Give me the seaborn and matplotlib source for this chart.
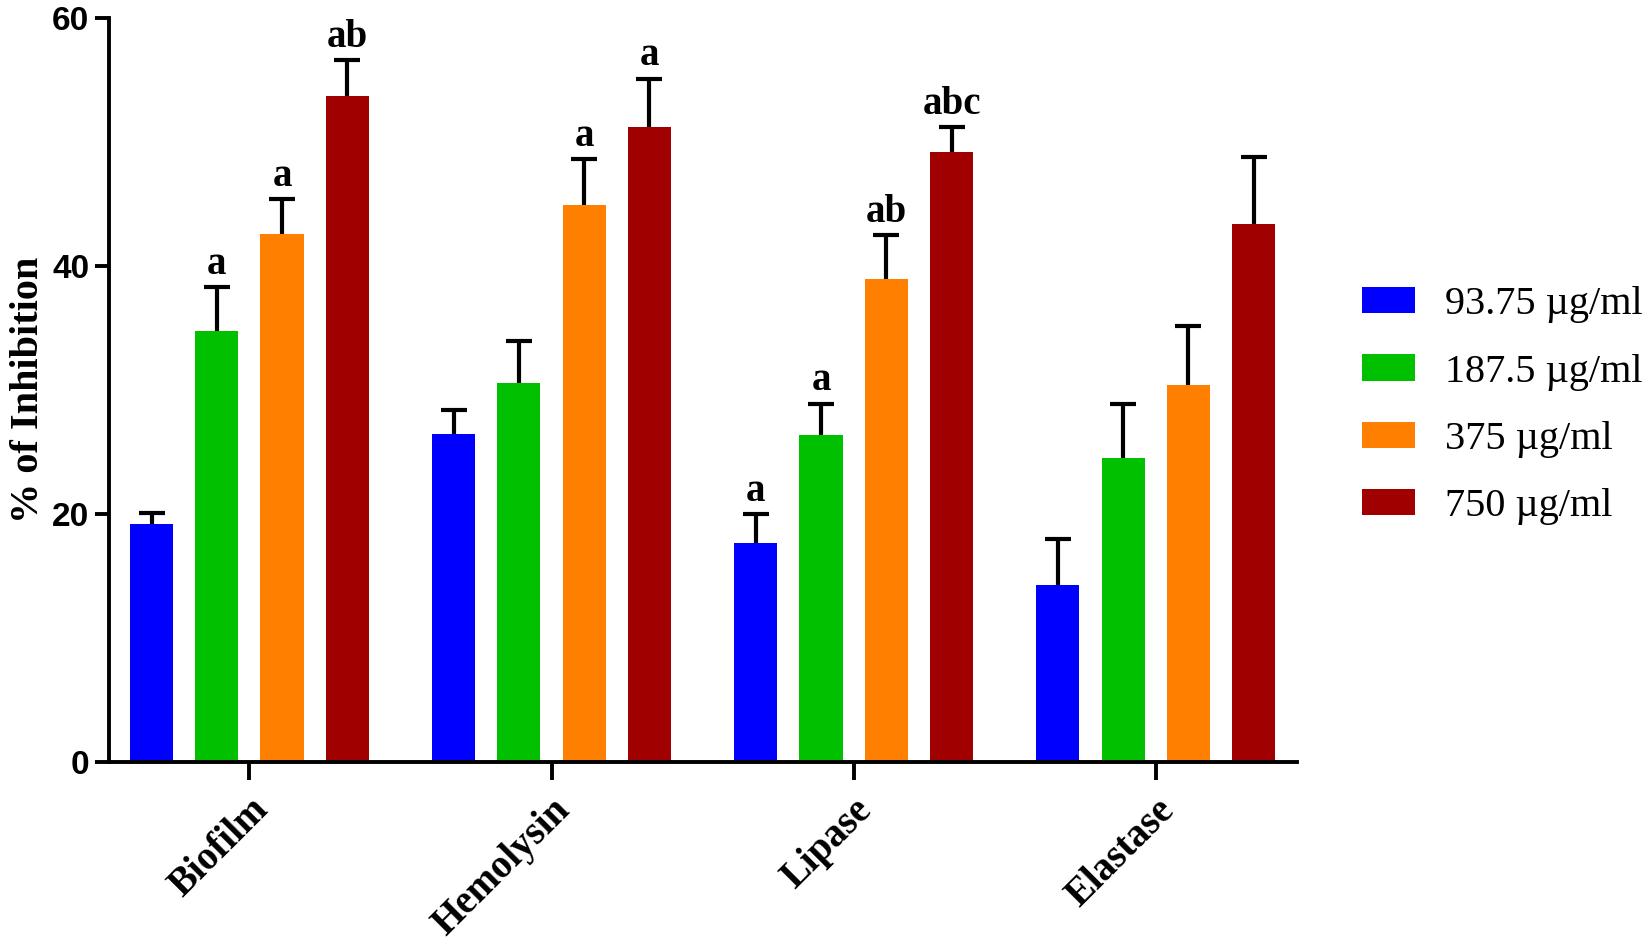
import numpy as np
import pandas as pd
import matplotlib
matplotlib.use('Agg')
import matplotlib.pyplot as plt
import seaborn as sns

# data
assays = ['Biofilm', 'Hemolysin', 'Lipase', 'Elastase']
doses = ['93.75 µg/ml', '187.5 µg/ml', '375 µg/ml', '750 µg/ml']

mean_9375 = [19.2, 26.5, 17.7, 14.3]
mean_1875 = [34.8, 30.6, 26.4, 24.5]
mean_375 = [42.6, 44.9, 39.0, 30.4]
mean_750 = [53.7, 51.2, 49.2, 43.4]

sd_9375 = [0.9, 1.9, 2.3, 3.7]
sd_1875 = [3.5, 3.4, 2.5, 4.4]
sd_375 = [2.8, 3.7, 3.5, 4.8]
sd_750 = [2.9, 3.9, 2.0, 5.4]

# significance letters (same order as bars)
letters_9375 = ['', '', 'a', '']
letters_1875 = ['a', '', 'a', '']
letters_375 = ['a', 'a', 'ab', '']
letters_750 = ['ab', 'a', 'abc', '']

colors = ['#0000FF', '#00C000', '#FF8000', '#A00000']

means = [mean_9375, mean_1875, mean_375, mean_750]
sds = [sd_9375, sd_1875, sd_375, sd_750]
letters = [letters_9375, letters_1875, letters_375, letters_750]

df = pd.DataFrame({
    'assay': assays * len(doses),
    'dose': np.repeat(doses, len(assays)),
    'inhibition': np.concatenate(means),
})

sns.set_style('ticks')
plt.rcParams['font.family'] = ['Liberation Serif', 'DejaVu Serif']
for k in ['text.color', 'axes.labelcolor', 'xtick.color', 'ytick.color', 'axes.edgecolor']:
    plt.rcParams[k] = 'black'

fig, ax = plt.subplots(figsize=(16.5, 9.47), dpi=100)
fig.subplots_adjust(left=0.066, right=0.786, bottom=0.195, top=0.981)

sns.barplot(data=df, x='assay', y='inhibition', hue='dose', order=assays,
            hue_order=doses, palette=colors, width=0.864, gap=0.34,
            errorbar=None, saturation=1, linewidth=0, ax=ax)

# upper error bars + letters
for cont, sd, lab in zip(ax.containers, sds, letters):
    xs = [b.get_x() + b.get_width() / 2 for b in cont]
    hs = [b.get_height() for b in cont]
    eb = ax.errorbar(xs, hs, yerr=[np.zeros(len(sd)), sd], fmt='none',
                     ecolor='black', elinewidth=3, capsize=9.5, capthick=3, zorder=3)
    eb[1][0].set_visible(False)  # hide the lower cap
    for x, h, s, t in zip(xs, hs, sd, lab):
        if t:
            ax.text(x, h + s + 0.35, t, ha='center', va='bottom',
                    fontsize=28, fontweight='bold')

ax.set_ylim(0, 60)
ax.set_xlim(-0.465, 3.467)
ax.set_yticks([0, 20, 40, 60])
ax.set_xlabel('')
ax.set_ylabel('% of Inhibition', fontsize=29, fontweight='bold', labelpad=4)

for lbl in ax.get_yticklabels():
    lbl.set_fontfamily('Liberation Sans')
    lbl.set_fontweight('bold')
    lbl.set_fontsize(24)
ax.set_xticks(range(len(assays)))
ax.set_xticklabels(assays, rotation=45, ha='right', rotation_mode='anchor',
                   fontsize=28, fontweight='bold')
ax.tick_params(axis='y', length=10, width=2.8, pad=4)
ax.tick_params(axis='x', length=13, width=2.8, pad=8)

sns.despine(ax=ax)
for sp in ['left', 'bottom']:
    ax.spines[sp].set_linewidth(2.8)

handles, labels = ax.get_legend_handles_labels()
ax.legend(handles, labels, loc='center left', bbox_to_anchor=(1.055, 0.479),
          frameon=False, fontsize=29, handlelength=1.31, handleheight=0.62,
          handletextpad=0.75, labelspacing=0.75, borderpad=0, borderaxespad=0)

fig.savefig('out.png', dpi=100)
